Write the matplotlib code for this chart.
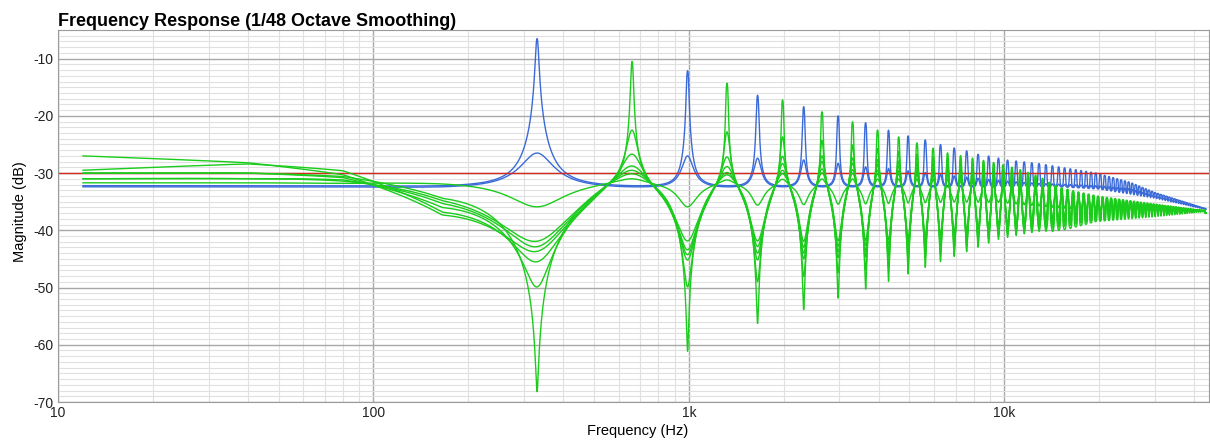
import numpy as np
import matplotlib
matplotlib.use('Agg')
import matplotlib.pyplot as plt
from matplotlib.ticker import FixedLocator, FixedFormatter, MultipleLocator, LogLocator, NullFormatter

plt.rcParams['font.family'] = ['Liberation Sans', 'DejaVu Sans']
plt.rcParams['axes.unicode_minus'] = False

# mode spacing (330, 990, 1650 Hz ...)
MODE_SPACING = 330.0
NODE_OFFSET = 100.0   # greens cross each other this far either side of their peaks
MAX_CUT_WIDTH = 480.0  # keep the higher dips from running into each other
F_LO, F_HI = 12.0, 43500.0
red_level = -30.0

# blue traces: peak level at the odd modes, floor in between
blue_peak_freq = [330, 990, 1650, 2310, 2970, 3630, 4290, 4950, 5610, 6270, 6930, 7590,
                  8250, 8910, 10230, 12870, 16170, 19470, 25000, 30000, 43500]
blue_hi_peaks = [-6.5, -12.1, -16.4, -18.4, -20.0, -21.2, -22.5, -23.5, -24.2, -25.0, -25.6, -26.1,
                 -26.7, -27.0, -27.7, -28.3, -29.2, -29.9, -31.5, -33.3, -36.1]
blue_lo_peaks = [-26.5, -27.0, -27.4, -27.7, -28.3, -28.9, -29.2, -29.6, -29.9, -30.2, -30.5, -30.7,
                 -30.9, -31.1, -31.4, -31.8, -32.0, -32.2, -32.7, -34.0, -36.2]
blue_floor_freq = [12, 15000, 20000, 30000, 43500]
blue_hi_floor = [-32.2, -32.2, -32.6, -34.2, -36.3]
blue_lo_floor = [-32.4, -32.4, -32.8, -34.4, -36.4]
blue_width = [125, 150]

# green traces: low end, peaks at even modes, dips at odd modes
green_low_freq = [12, 40, 80, 165]
green_node_freq = [560, 5000, 10000, 20000, 43500]
green_node = [-31.7, -32.3, -33.3, -35.3, -36.6]
green_peak_freq = [660, 1320, 2640, 6600, 9900, 19800, 43500]
green_trough_freq = [330, 990, 1650, 2310, 4290, 6930, 9570, 19470, 43500]

green_low = [
    [-31.7, -31.7, -31.8, -31.9],
    [-31.0, -31.0, -31.4, -34.8],
    [-31.0, -31.0, -31.2, -35.3],
    [-27.0, -28.2, -30.3, -37.3],
    [-29.5, -28.4, -29.6, -36.8],
    [-30.0, -30.0, -30.8, -36.0],
    [-30.0, -30.0, -30.6, -34.4],
]
green_peaks = [
    [-31.0, -31.2, -31.0, -31.0, -31.8, -35.0, -36.4],
    [-30.3, -30.5, -30.0, -30.3, -31.2, -34.6, -36.4],
    [-29.6, -30.0, -29.3, -29.8, -30.8, -34.4, -36.4],
    [-28.8, -28.9, -28.0, -29.2, -30.3, -34.2, -36.4],
    [-26.7, -27.2, -27.0, -28.5, -29.8, -34.0, -36.4],
    [-22.5, -22.8, -24.3, -27.5, -29.2, -33.5, -36.4],
    [-10.5, -14.3, -19.3, -26.5, -28.5, -33.0, -36.4],
]
green_troughs = [
    [-35.9, -35.9, -35.6, -35.5, -35.3, -35.0, -35.0, -36.5, -36.8],
    [-42.0, -42.0, -42.0, -42.0, -41.7, -40.5, -39.0, -36.8, -36.8],
    [-42.9, -43.5, -42.9, -43.0, -42.5, -41.2, -39.5, -37.0, -36.8],
    [-43.7, -44.3, -44.0, -44.0, -43.5, -41.8, -40.0, -37.2, -36.8],
    [-45.5, -45.2, -45.2, -45.0, -44.5, -42.5, -40.5, -37.3, -36.8],
    [-49.9, -49.9, -49.0, -48.1, -46.5, -43.5, -41.0, -37.5, -36.8],
    [-68.2, -61.2, -56.3, -53.9, -49.0, -44.6, -41.6, -37.6, -36.8],
]
green_boost_width = [200, 280, 260, 240, 220, 160, 110]
green_cut_width = [220, 680, 600, 540, 480, 430, 420]

x_ticks = [10, 100, 1000, 10000]
x_tick_labels = ['10', '100', '1k', '10k']
y_ticks = [-10, -20, -30, -40, -50, -60, -70]

freq = np.geomspace(F_LO, F_HI, 40000)
logf = np.log(freq)
SMOOTH_N = int(round(np.log10(2) / 48 / np.log10(freq[1] / freq[0]))) | 1
mode_f = np.arange(1, int(F_HI // MODE_SPACING) + 1) * MODE_SPACING
mode_odd = (np.arange(1, len(mode_f) + 1) % 2) == 1


def smooth(level_db):
    # 1/48 octave smoothing on power
    p = 10 ** (level_db / 10)
    p = np.pad(p, SMOOTH_N // 2, mode='edge')
    p = np.convolve(p, np.ones(SMOOTH_N) / SMOOTH_N, 'valid')
    return 10 * np.log10(p)


def response(ctrl_f, ctrl_db, fn, gain_db, width, boost):
    level = np.interp(logf, np.log(ctrl_f), ctrl_db)
    f2 = freq ** 2
    for f0, g_db, w, up in zip(fn, gain_db, width, boost):
        g = 10 ** (g_db / 20)
        num, den = (w, w / g) if up else (w * g, w)
        d = (f0 ** 2 - f2) ** 2
        level += 10 * np.log10((d + f2 * num ** 2) / (d + f2 * den ** 2))
    return smooth(level)


def fit_curve(ctrl_f, ctrl_target, fn, mode_target, width, boost, rounds=10):
    ctrl_f = np.asarray(ctrl_f, float)
    ctrl_target = np.asarray(ctrl_target, float)
    ci = np.searchsorted(freq, ctrl_f).clip(0, len(freq) - 1)
    mi = np.searchsorted(freq, fn).clip(0, len(freq) - 1)
    ctrl = ctrl_target.copy()
    gains = mode_target - np.interp(np.log(fn), np.log(ctrl_f), ctrl)
    for _ in range(rounds):
        level = response(ctrl_f, ctrl, fn, gains, width, boost)
        ctrl += np.clip(0.7 * (ctrl_target - level[ci]), -3, 3)
        gains = np.clip(gains + 0.7 * (mode_target - level[mi]), -50, 35)
    return response(ctrl_f, ctrl, fn, gains, width, boost)


def blue_curve(peaks, floor, width):
    fn = mode_f[mode_odd]
    ctrl_f = np.concatenate([[12, 40, 80, 165], mode_f[~mode_odd]])
    ctrl_t = np.interp(np.log(ctrl_f), np.log(blue_floor_freq), floor)
    target = np.interp(np.log(fn), np.log(blue_peak_freq), peaks)
    return fit_curve(ctrl_f, ctrl_t, fn, target, np.full(len(fn), width), np.ones(len(fn), bool))


def green_curve(k):
    peaks_f = mode_f[~mode_odd]
    nodes = np.sort(np.concatenate([peaks_f - NODE_OFFSET, peaks_f + NODE_OFFSET]))
    nodes = nodes[nodes < F_HI - 50]
    ctrl_f = np.concatenate([[12, 40, 80, 165], nodes])
    anchor_f = np.log(green_low_freq + green_node_freq)
    ctrl_t = np.interp(np.log(ctrl_f), anchor_f, green_low[k] + green_node)
    target = np.where(mode_odd,
                      np.interp(np.log(mode_f), np.log(green_trough_freq), green_troughs[k]),
                      np.interp(np.log(mode_f), np.log(green_peak_freq), green_peaks[k]))
    cut_w = np.where(mode_f < 2000, green_cut_width[k], min(green_cut_width[k], MAX_CUT_WIDTH))
    width = np.where(mode_odd, cut_w, green_boost_width[k])
    return fit_curve(ctrl_f, ctrl_t, mode_f, target, width, ~mode_odd)


fig = plt.figure(figsize=(12.1, 4.4), dpi=100)
ax = fig.add_axes([58 / 1210, 38 / 440, 1151 / 1210, 372 / 440])
ax.set_xscale('log')

blue = '#3a6ad8'
green = '#1ccc1c'
ax.semilogx(freq, blue_curve(blue_hi_peaks, blue_hi_floor, blue_width[0]), color=blue, lw=1.0)
ax.semilogx(freq, blue_curve(blue_lo_peaks, blue_lo_floor, blue_width[1]), color=blue, lw=1.0)
ax.axhline(red_level, xmin=0.0, xmax=1.0, color='#d42a20', lw=1.0)
for k in range(len(green_low)):
    ax.semilogx(freq, green_curve(k), color=green, lw=1.0)

ax.set_xlim(10, 44500)
ax.set_ylim(-70, -5)
ax.xaxis.set_major_locator(FixedLocator(x_ticks))
ax.xaxis.set_major_formatter(FixedFormatter(x_tick_labels))
ax.xaxis.set_minor_locator(LogLocator(base=10, subs=range(2, 10), numticks=20))
ax.xaxis.set_minor_formatter(NullFormatter())
ax.yaxis.set_major_locator(FixedLocator(y_ticks))
ax.yaxis.set_minor_locator(MultipleLocator(1))
ax.grid(which='major', color='#a8a8a8', lw=1.0)
ax.grid(which='minor', color='#e0e0e0', lw=0.8)
ax.set_axisbelow(True)
ax.tick_params(which='both', length=0, labelsize=10, colors='#222222', pad=3)
for s in ax.spines.values():
    s.set_color('#9a9a9a')

fig.text(58 / 1210, 1 - 26 / 440, 'Frequency Response (1/48 Octave Smoothing)',
         fontsize=13, fontweight='bold', va='baseline', ha='left')
fig.text(20 / 1210, 1 - 212 / 440, 'Magnitude (dB)', rotation=90, fontsize=10.5,
         ha='center', va='center')
fig.text(638 / 1210, 1 - 431 / 440, 'Frequency (Hz)', fontsize=10.5, ha='center', va='center')

fig.savefig('out.png', dpi=100)
